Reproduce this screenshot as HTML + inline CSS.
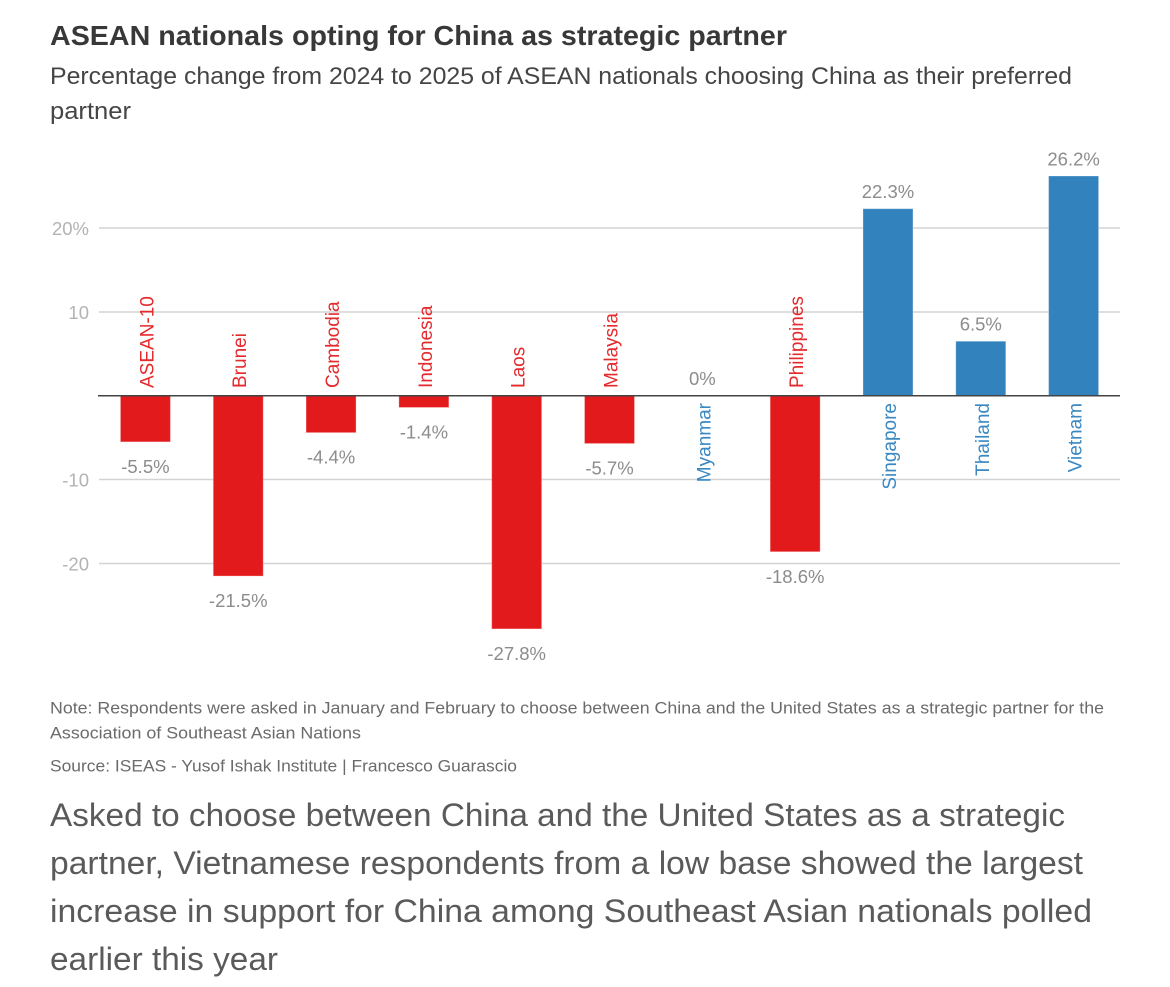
<!DOCTYPE html>
<html>
<head>
<meta charset="utf-8">
<style>
  html, body { margin: 0; padding: 0; background: #ffffff; }
  body { width: 1170px; height: 987px; overflow: hidden; }
  svg { display: block; }
  text { font-family: "Liberation Sans", sans-serif; }
</style>
</head>
<body>
<svg width="1170" height="987" viewBox="0 0 1170 987" xmlns="http://www.w3.org/2000/svg">
  <!-- Title -->
  <text x="50" y="45" font-size="28" font-weight="bold" fill="#383838" textLength="737" lengthAdjust="spacingAndGlyphs">ASEAN nationals opting for China as strategic partner</text>
  <!-- Subtitle -->
  <text x="50" y="84" font-size="24" fill="#454545" textLength="1022" lengthAdjust="spacingAndGlyphs">Percentage change from 2024 to 2025 of ASEAN nationals choosing China as their preferred</text>
  <text x="50" y="119" font-size="24" fill="#454545" textLength="81" lengthAdjust="spacingAndGlyphs">partner</text>

  <!-- Gridlines -->
  <g stroke="#d3d3d3" stroke-width="1.5">
    <line x1="99" y1="228" x2="1120" y2="228"/>
    <line x1="99" y1="312" x2="1120" y2="312"/>
    <line x1="99" y1="479.5" x2="1120" y2="479.5"/>
    <line x1="99" y1="563.5" x2="1120" y2="563.5"/>
  </g>

  <!-- Y tick labels -->
  <g font-size="18.5" fill="#b3b3b3" text-anchor="end">
    <text x="89" y="235">20%</text>
    <text x="89" y="319">10</text>
    <text x="89" y="486.5">-10</text>
    <text x="89" y="570.5">-20</text>
  </g>

  <!-- Bars -->
  <g stroke="#ffffff" stroke-opacity="0.3" stroke-width="1">
    <rect x="120.41" y="395.75" width="50" height="46.13" fill="#e31a1c"/>
    <rect x="213.23" y="395.75" width="50" height="180.33" fill="#e31a1c"/>
    <rect x="306.05" y="395.75" width="50" height="36.91" fill="#e31a1c"/>
    <rect x="398.87" y="395.75" width="50" height="11.74" fill="#e31a1c"/>
    <rect x="491.69" y="395.75" width="50" height="233.17" fill="#e31a1c"/>
    <rect x="584.51" y="395.75" width="50" height="47.81" fill="#e31a1c"/>
    <rect x="770.15" y="395.75" width="50" height="156.01" fill="#e31a1c"/>
    <rect x="862.97" y="208.71" width="50" height="187.04" fill="#3182bd"/>
    <rect x="955.79" y="341.23" width="50" height="54.52" fill="#3182bd"/>
    <rect x="1048.61" y="176.0" width="50" height="219.75" fill="#3182bd"/>
  </g>

  <!-- Zero line -->
  <line x1="98" y1="395.75" x2="1120" y2="395.75" stroke="#444444" stroke-width="1.6"/>

  <!-- Value labels -->
  <g font-size="18.5" fill="#8c8c8c" text-anchor="middle">
    <text x="145.41" y="472.9">-5.5%</text>
    <text x="238.23" y="607.1">-21.5%</text>
    <text x="331.05" y="463.7">-4.4%</text>
    <text x="423.87" y="438.5">-1.4%</text>
    <text x="516.69" y="659.9">-27.8%</text>
    <text x="609.51" y="474.6">-5.7%</text>
    <text x="702.33" y="385.2">0%</text>
    <text x="795.15" y="582.8">-18.6%</text>
    <text x="887.97" y="198.2">22.3%</text>
    <text x="980.79" y="330.7">6.5%</text>
    <text x="1073.61" y="165.5">26.2%</text>
  </g>

  <!-- Category labels (negative: above zero line, red) -->
  <g font-size="19" fill="#e52a2d" text-anchor="start">
    <text transform="translate(153.4,388) rotate(-90)">ASEAN-10</text>
    <text transform="translate(246.2,388) rotate(-90)">Brunei</text>
    <text transform="translate(339.0,388) rotate(-90)">Cambodia</text>
    <text transform="translate(431.9,388) rotate(-90)">Indonesia</text>
    <text transform="translate(524.7,388) rotate(-90)">Laos</text>
    <text transform="translate(617.5,388) rotate(-90)">Malaysia</text>
    <text transform="translate(803.2,388) rotate(-90)">Philippines</text>
  </g>
  <!-- Category labels (zero/positive: below zero line, blue) -->
  <g font-size="19" fill="#3a88c2" text-anchor="end">
    <text transform="translate(710.3,403) rotate(-90)">Myanmar</text>
    <text transform="translate(896.0,403) rotate(-90)">Singapore</text>
    <text transform="translate(988.8,403) rotate(-90)">Thailand</text>
    <text transform="translate(1081.6,403) rotate(-90)">Vietnam</text>
  </g>

  <!-- Note & source -->
  <g font-size="17" fill="#6b6b6b">
    <text x="50" y="713.5" textLength="1054" lengthAdjust="spacingAndGlyphs">Note: Respondents were asked in January and February to choose between China and the United States as a strategic partner for the</text>
    <text x="50" y="738.5" textLength="311" lengthAdjust="spacingAndGlyphs">Association of Southeast Asian Nations</text>
    <text x="50" y="771.5" textLength="467" lengthAdjust="spacingAndGlyphs">Source: ISEAS - Yusof Ishak Institute | Francesco Guarascio</text>
  </g>

  <!-- Bottom paragraph -->
  <g font-size="32" fill="#5a5a5a">
    <text x="50" y="826" textLength="1015" lengthAdjust="spacingAndGlyphs">Asked to choose between China and the United States as a strategic</text>
    <text x="50" y="874" textLength="1033" lengthAdjust="spacingAndGlyphs">partner, Vietnamese respondents from a low base showed the largest</text>
    <text x="50" y="922" textLength="1042" lengthAdjust="spacingAndGlyphs">increase in support for China among Southeast Asian nationals polled</text>
    <text x="50" y="970" textLength="228" lengthAdjust="spacingAndGlyphs">earlier this year</text>
  </g>
</svg>
</body>
</html>
